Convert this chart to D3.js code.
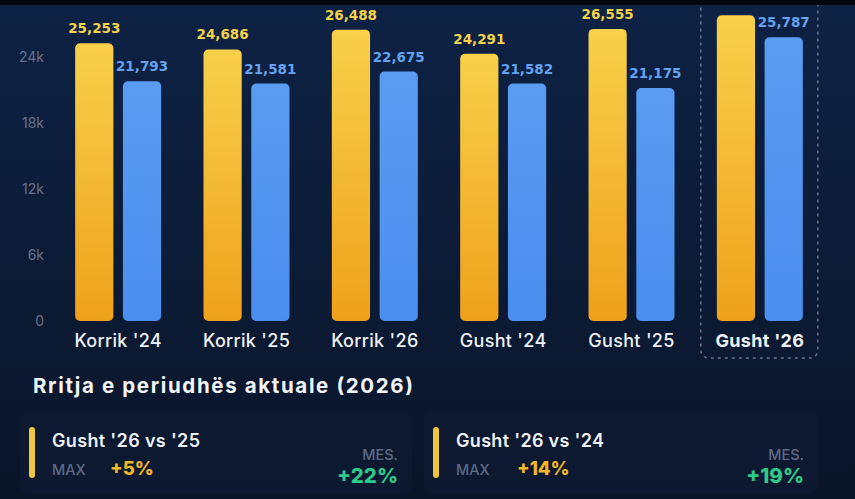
<!DOCTYPE html>
<html>
<head>
<meta charset="utf-8">
<script src="https://cdn.jsdelivr.net/npm/d3@7"></script>
<style>
  html, body { margin: 0; padding: 0; background: #0b1830; }
  svg { display: block; font-family: Inter, "Open Sans", sans-serif; }
</style>
</head>
<body>
<div id="chart"></div>
<script>
const categories = ["Korrik '24", "Korrik '25", "Korrik '26", "Gusht '24", "Gusht '25", "Gusht '26"];
const maxValues = [25253, 24686, 26488, 24291, 26555, 27790];
const avgValues = [21793, 21581, 22675, 21582, 21175, 25787];
const yTicks = [0, 6000, 12000, 18000, 24000];
const yTickLabels = ["0", "6k", "12k", "18k", "24k"];
const highlight = "Gusht '26";

const sectionTitle = "Rritja e periudhës aktuale (2026)";
const cardTitles = ["Gusht '26 vs '25", "Gusht '26 vs '24"];
const cardMax = ["+5%", "+14%"];
const cardMes = ["+22%", "+19%"];

const width = 855;
const height = 499;

const svg = d3.select("#chart").append("svg")
  .attr("width", width)
  .attr("height", height);

const defs = svg.append("defs");
const bg = defs.append("linearGradient").attr("id", "bg").attr("x1", 0).attr("y1", 0).attr("x2", 0).attr("y2", 1);
bg.append("stop").attr("offset", "0%").attr("stop-color", "#0e2245");
bg.append("stop").attr("offset", "100%").attr("stop-color", "#0a1529");
const gy = defs.append("linearGradient").attr("id", "gy").attr("x1", 0).attr("y1", 0).attr("x2", 0).attr("y2", 1);
gy.append("stop").attr("offset", "0%").attr("stop-color", "#f8d04a");
gy.append("stop").attr("offset", "100%").attr("stop-color", "#efa11b");
const gb = defs.append("linearGradient").attr("id", "gb").attr("x1", 0).attr("y1", 0).attr("x2", 0).attr("y2", 1);
gb.append("stop").attr("offset", "0%").attr("stop-color", "#5a9cf1");
gb.append("stop").attr("offset", "100%").attr("stop-color", "#4a8eef");

svg.append("rect").attr("width", width).attr("height", height).attr("fill", "url(#bg)");

// scales
const x = d3.scaleBand()
  .domain(categories)
  .range([11, 867])
  .paddingInner(0.33)
  .paddingOuter(0.5);

const sub = d3.scaleBand()
  .domain(["max", "avg"])
  .range([0, x.bandwidth()])
  .paddingInner(0.2);

const y = d3.scaleLinear()
  .domain([0, 28000])
  .range([321, 13]);

// y axis
const yAxis = svg.append("g")
  .attr("transform", "translate(44,0)")
  .call(d3.axisLeft(y).tickValues(yTicks).tickSize(0).tickPadding(0)
    .tickFormat((d, i) => yTickLabels[i]));
yAxis.select(".domain").remove();
yAxis.selectAll("text")
  .attr("fill", "#66728c")
  .attr("font-size", 14)
  .attr("font-family", "Inter, sans-serif");

// highlight box
svg.append("rect")
  .attr("x", x(highlight) - 16)
  .attr("y", -10)
  .attr("width", x.bandwidth() + 31)
  .attr("height", 368)
  .attr("rx", 8)
  .attr("fill", "none")
  .attr("stroke", "#7c8aa3")
  .attr("stroke-opacity", 0.8)
  .attr("stroke-width", 1.5)
  .attr("stroke-dasharray", "3,4");

const groups = svg.append("g").selectAll("g")
  .data(categories)
  .join("g")
  .attr("transform", d => `translate(${x(d)},0)`);

// bars
groups.append("rect")
  .attr("x", sub("max"))
  .attr("width", sub.bandwidth())
  .attr("y", (d, i) => y(maxValues[i]))
  .attr("height", (d, i) => y(0) - y(maxValues[i]))
  .attr("rx", 5)
  .attr("fill", "url(#gy)");

groups.append("rect")
  .attr("x", sub("avg"))
  .attr("width", sub.bandwidth())
  .attr("y", (d, i) => y(avgValues[i]))
  .attr("height", (d, i) => y(0) - y(avgValues[i]))
  .attr("rx", 5)
  .attr("fill", "url(#gb)");

// value labels (the one that runs past the top edge is not shown, as in the source)
const fmt = d3.format(",");
groups.filter((d, i) => y(maxValues[i]) - 10 > 14)
  .append("text")
  .attr("x", sub("max") + sub.bandwidth() / 2)
  .attr("y", d => y(maxValues[categories.indexOf(d)]) - 10)
  .attr("text-anchor", "middle")
  .attr("fill", "#f2d24a")
  .attr("font-size", 13.5)
  .attr("font-family", "'DejaVu Sans', sans-serif")
  .attr("font-weight", 700)
  .text(d => fmt(maxValues[categories.indexOf(d)]));

groups.append("text")
  .attr("x", sub("avg") + sub.bandwidth() / 2)
  .attr("y", (d, i) => y(avgValues[i]) - 10)
  .attr("text-anchor", "middle")
  .attr("fill", "#64a2ef")
  .attr("font-size", 13.5)
  .attr("font-family", "'DejaVu Sans', sans-serif")
  .attr("font-weight", 700)
  .text((d, i) => fmt(avgValues[i]));

// x axis
const xAxis = svg.append("g")
  .attr("transform", "translate(0,347)")
  .call(d3.axisBottom(x).tickSize(0).tickPadding(0));
xAxis.select(".domain").remove();
xAxis.selectAll("text")
  .attr("dy", 0)
  .attr("fill", "#eef2f8")
  .attr("font-size", 18)
  .attr("letter-spacing", 0.3)
  .attr("font-family", "Inter, sans-serif")
  .attr("font-weight", d => d === highlight ? 700 : 500);

// dark band on top edge
svg.append("rect").attr("width", width).attr("height", 5).attr("fill", "#04070d");

// summary section
svg.append("text")
  .attr("x", 33)
  .attr("y", 393)
  .attr("fill", "#f2f4f8")
  .attr("font-size", 20.5)
  .attr("font-weight", 700)
  .attr("textLength", 380)
  .attr("lengthAdjust", "spacing")
  .text(sectionTitle);

const cardX = [20, 424];
const cardW = [392, 394];
cardTitles.forEach((t, i) => {
  const g = svg.append("g").attr("transform", `translate(${cardX[i]},412)`);
  g.append("rect")
    .attr("width", cardW[i]).attr("height", 81).attr("rx", 8)
    .attr("fill", "#0f1d38").attr("fill-opacity", 0.45);
  g.append("rect")
    .attr("x", 9).attr("y", 15).attr("width", 6).attr("height", 51).attr("rx", 3)
    .attr("fill", "#f0c43c");
  g.append("text")
    .attr("x", 32).attr("y", 35)
    .attr("fill", "#eef2f8").attr("font-size", 18).attr("font-weight", 600)
    .attr("textLength", 148).attr("lengthAdjust", "spacing")
    .text(t);
  g.append("text")
    .attr("x", 32).attr("y", 63)
    .attr("fill", "#5d6985").attr("font-size", 14.5).attr("font-weight", 500)
    .text("MAX");
  g.append("text")
    .attr("x", i === 0 ? 90 : 93).attr("y", 63)
    .attr("fill", "#f2b52a").attr("font-size", 18.5).attr("font-weight", 800)
    .text(cardMax[i]);
  g.append("text")
    .attr("x", cardW[i] - 14).attr("y", 48).attr("text-anchor", "end")
    .attr("fill", "#5d6985").attr("font-size", 14.5).attr("font-weight", 500)
    .text("MES.");
  g.append("text")
    .attr("x", cardW[i] - 14).attr("y", 71).attr("text-anchor", "end")
    .attr("fill", "#2fc98a").attr("font-size", 20.5).attr("font-weight", 800)
    .text(cardMes[i]);
});
</script>
</body>
</html>
